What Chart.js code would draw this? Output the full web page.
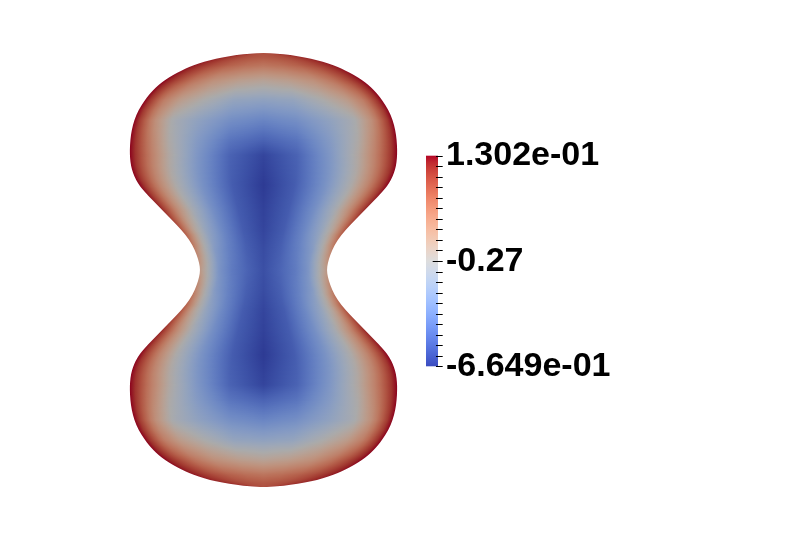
<!DOCTYPE html>
<html><head><meta charset="utf-8">
<script src="https://cdn.jsdelivr.net/npm/chart.js@4/dist/chart.umd.min.js"></script>
<style>html,body{margin:0;padding:0;background:#fff;overflow:hidden}canvas{display:block}</style>
</head><body>
<canvas id="c" width="786" height="551"></canvas>
<script>
// ---- data ----
const RANGE_MIN = -0.6649;
const RANGE_MAX = 0.1302;
const colorbarLabels = ['1.302e-01', '-0.27', '-6.649e-01'];
const colorbarLabelValues = [0.1302, -0.26735, -0.6649];
const colorbarTickCount = 21;

const AXIS_X = 263.5; // symmetry axis of the shape
// left boundary of the shape (the right side is its mirror image)
const outlineY = [52.8, 53.6, 55, 57.3, 60, 63.5, 67, 70.5, 75, 80, 85, 90, 95, 100, 110, 120, 130, 140, 150, 158, 166, 173, 179.5, 186, 190.5, 195, 205, 215, 225, 235, 245, 255, 263, 270, 277, 285, 295, 305, 315, 325, 335, 345, 349.5, 354, 360.5, 367, 374, 382, 390, 400, 410, 420, 430, 440, 445, 450, 455, 460, 465, 469.5, 473, 476.5, 480, 482.7, 485, 486.4, 487.2];
const outlineX = [263.5, 250, 236.7, 222, 210, 198.5, 189, 181.5, 173, 165, 158.5, 153.3, 148.8, 145, 138.5, 134.3, 131.7, 130.3, 129.8, 130, 131, 133, 135.8, 139.8, 143.6, 147.6, 157.3, 167, 176.8, 185.8, 192.5, 196.8, 199.2, 200.2, 199.2, 196.8, 192.5, 185.8, 176.8, 167, 157.3, 147.6, 143.6, 139.8, 135.8, 133, 131, 130, 129.8, 130.3, 131.7, 134.3, 138.5, 145, 148.8, 153.3, 158.5, 165, 173, 181.5, 189, 198.5, 210, 222, 236.7, 250, 263.5];

// scalar field: rows across the shape, sampled at fractions of the local half-width
const rowY = [52, 57, 65, 80, 100, 120, 140, 155, 185, 210, 230, 250, 270, 290, 310, 330, 355, 385, 400, 420, 440, 460, 475, 483, 488];
const profileT = [0, 0.25, 0.5, 0.7, 0.85, 1];
const valAtT000 = [0.019, 0.003, -0.061, -0.212, -0.363, -0.474, -0.569, -0.641, -0.665, -0.649, -0.641, -0.625, -0.617, -0.625, -0.641, -0.649, -0.665, -0.641, -0.569, -0.474, -0.363, -0.212, -0.061, 0.003, 0.019];
const valAtT025 = [0.027, 0.011, -0.045, -0.188, -0.347, -0.442, -0.522, -0.569, -0.585, -0.585, -0.585, -0.577, -0.569, -0.577, -0.585, -0.585, -0.585, -0.569, -0.522, -0.442, -0.347, -0.188, -0.045, 0.011, 0.027];
const valAtT050 = [0.035, 0.027, -0.013, -0.140, -0.267, -0.363, -0.395, -0.410, -0.426, -0.442, -0.466, -0.490, -0.506, -0.490, -0.466, -0.442, -0.426, -0.410, -0.395, -0.363, -0.267, -0.140, -0.013, 0.027, 0.035];
const valAtT070 = [0.051, 0.051, 0.027, -0.061, -0.188, -0.283, -0.267, -0.251, -0.267, -0.291, -0.347, -0.402, -0.426, -0.402, -0.347, -0.291, -0.267, -0.251, -0.267, -0.283, -0.188, -0.061, 0.027, 0.051, 0.051];
const valAtT085 = [0.067, 0.075, 0.067, 0.027, -0.077, -0.124, -0.092, -0.077, -0.092, -0.124, -0.212, -0.267, -0.299, -0.267, -0.212, -0.124, -0.092, -0.077, -0.092, -0.124, -0.077, 0.027, 0.067, 0.075, 0.067];
const valAtT100 = [0.083, 0.098, 0.114, 0.130, 0.130, 0.130, 0.130, 0.130, 0.130, 0.090, 0.011, -0.092, -0.172, -0.092, 0.011, 0.090, 0.130, 0.130, 0.130, 0.130, 0.130, 0.130, 0.114, 0.098, 0.083];
const profileColumns = [valAtT000, valAtT025, valAtT050, valAtT070, valAtT085, valAtT100];

// Cool to Warm diverging colour map (33 entries)
const coolWarm = [[59,76,192],[68,90,204],[77,104,215],[87,117,225],[98,130,234],[108,142,241],[119,154,247],[130,165,251],[141,176,254],[152,185,255],[163,194,255],[174,201,253],[184,208,249],[194,213,244],[204,217,238],[213,219,230],[221,221,221],[229,216,209],[236,211,197],[241,204,184],[245,196,172],[247,187,160],[247,177,148],[247,166,137],[244,154,123],[241,141,112],[236,127,99],[229,112,88],[222,96,77],[213,80,66],[203,62,56],[192,40,47],[180,4,38]];
const SHADE = 0.77; // lighting on the rendered surface

// ---- helpers ----
function lut(v, shade) {
  let s = (v - RANGE_MIN) / (RANGE_MAX - RANGE_MIN);
  s = Math.max(0, Math.min(1, s));
  const f = s * (coolWarm.length - 1);
  const i = Math.min(coolWarm.length - 2, Math.floor(f));
  const u = f - i;
  const a = coolWarm[i], b = coolWarm[i + 1];
  const c = [0, 1, 2].map(k => Math.round((a[k] + (b[k] - a[k]) * u) * shade));
  return 'rgb(' + c[0] + ',' + c[1] + ',' + c[2] + ')';
}
function interpLeft(pts, y) {
  if (y <= pts[0].y) return pts[0].x;
  for (let i = 1; i < pts.length; i++) {
    if (y <= pts[i].y) {
      const p = pts[i - 1], q = pts[i];
      const u = (y - p.y) / (q.y - p.y);
      return p.x + (q.x - p.x) * u;
    }
  }
  return pts[pts.length - 1].x;
}
function profileAt(rowPix, y) {
  let i = 0;
  if (y <= rowPix[0]) return profileColumns.map(c => c[0]);
  if (y >= rowPix[rowPix.length - 1]) return profileColumns.map(c => c[c.length - 1]);
  while (i < rowPix.length - 2 && y > rowPix[i + 1]) i++;
  const u = (y - rowPix[i]) / (rowPix[i + 1] - rowPix[i]);
  return profileColumns.map(c => c[i] + (c[i + 1] - c[i]) * u);
}
function valueAtT(prof, t) {
  for (let k = 1; k < profileT.length; k++) {
    if (t <= profileT[k]) {
      const u = (t - profileT[k - 1]) / (profileT[k] - profileT[k - 1]);
      return prof[k - 1] + (prof[k] - prof[k - 1]) * u;
    }
  }
  return prof[prof.length - 1];
}

const fieldPlugin = {
  id: 'field',
  beforeDatasetsDraw(chart) {
    const ctx = chart.ctx;
    const xs = chart.scales.x, ys = chart.scales.y;
    const cx = xs.getPixelForValue(AXIS_X);
    const L = outlineY.map((y, i) => ({ x: xs.getPixelForValue(outlineX[i]), y: ys.getPixelForValue(y) }));
    const R = L.map(p => ({ x: 2 * cx - p.x, y: p.y })).reverse();
    const poly = L.concat(R.slice(1, R.length - 1));
    ctx.save();
    ctx.beginPath();
    const n = poly.length;
    const mid = (a, b) => ({ x: (a.x + b.x) / 2, y: (a.y + b.y) / 2 });
    const m0 = mid(poly[n - 1], poly[0]);
    ctx.moveTo(m0.x, m0.y);
    for (let i = 0; i < n; i++) {
      const p = poly[i], q = poly[(i + 1) % n];
      const m = mid(p, q);
      ctx.quadraticCurveTo(p.x, p.y, m.x, m.y);
    }
    ctx.closePath();
    ctx.clip();
    const rowPix = rowY.map(v => ys.getPixelForValue(v));
    const yTop = Math.floor(L[0].y) - 1, yBot = Math.ceil(L[L.length - 1].y) + 1;
    const N = 24;
    for (let py = yTop; py <= yBot; py++) {
      const yc = py + 0.5;
      const w = Math.max(1, cx - interpLeft(L, yc));
      const prof = profileAt(rowPix, yc);
      const g = ctx.createLinearGradient(cx - w, 0, cx + w, 0);
      for (let k = -N; k <= N; k++) {
        const t = Math.abs(k) / N;
        g.addColorStop((k + N) / (2 * N), lut(valueAtT(prof, t), SHADE));
      }
      ctx.fillStyle = g;
      ctx.fillRect(cx - w - 4, py, 2 * w + 8, 1);
    }
    ctx.restore();
  }
};

const colorbarPlugin = {
  id: 'colorbar',
  afterDraw(chart) {
    const ctx = chart.ctx;
    const xs = chart.scales.x, ys = chart.scales.y;
    const left = xs.getPixelForValue(426), right = xs.getPixelForValue(438);
    const top = ys.getPixelForValue(155.7), bottom = ys.getPixelForValue(366.3);
    const vToPix = v => bottom + (v - RANGE_MIN) / (RANGE_MAX - RANGE_MIN) * (top - bottom);
    ctx.save();
    const g = ctx.createLinearGradient(0, bottom, 0, top);
    for (let i = 0; i < coolWarm.length; i++) {
      const v = RANGE_MIN + (RANGE_MAX - RANGE_MIN) * i / (coolWarm.length - 1);
      g.addColorStop(i / (coolWarm.length - 1), lut(v, 1));
    }
    ctx.fillStyle = g;
    ctx.fillRect(left, top, right - left, bottom - top);
    ctx.strokeStyle = '#000';
    ctx.lineWidth = 1;
    for (let i = 0; i < colorbarTickCount; i++) {
      const v = RANGE_MIN + (RANGE_MAX - RANGE_MIN) * i / (colorbarTickCount - 1);
      const y = Math.round(vToPix(v)) + 0.5;
      const x0 = (i === (colorbarTickCount - 1) / 2) ? xs.getPixelForValue(432.7) : xs.getPixelForValue(436);
      ctx.beginPath();
      ctx.moveTo(x0, y);
      ctx.lineTo(xs.getPixelForValue(442.7), y);
      ctx.stroke();
    }
    ctx.fillStyle = '#000';
    ctx.font = 'bold 34px "Liberation Sans", Arial, sans-serif';
    ctx.textAlign = 'left';
    ctx.textBaseline = 'alphabetic';
    colorbarLabels.forEach((lab, i) => {
      ctx.fillText(lab, xs.getPixelForValue(446), vToPix(colorbarLabelValues[i]) + 9.5);
    });
    ctx.restore();
  }
};

new Chart(document.getElementById('c').getContext('2d'), {
  type: 'scatter',
  data: {
    datasets: [{
      label: 'outline',
      data: outlineY.map((y, i) => ({ x: outlineX[i], y: y })),
      showLine: false, pointRadius: 0, borderWidth: 0
    }]
  },
  options: {
    responsive: false, animation: false, devicePixelRatio: 1, events: [],
    layout: { padding: 0 },
    plugins: { legend: { display: false }, tooltip: { enabled: false }, title: { display: false } },
    scales: {
      x: { type: 'linear', min: 0, max: 786, display: false },
      y: { type: 'linear', min: 0, max: 551, reverse: true, display: false }
    }
  },
  plugins: [fieldPlugin, colorbarPlugin]
});
</script>
</body></html>
